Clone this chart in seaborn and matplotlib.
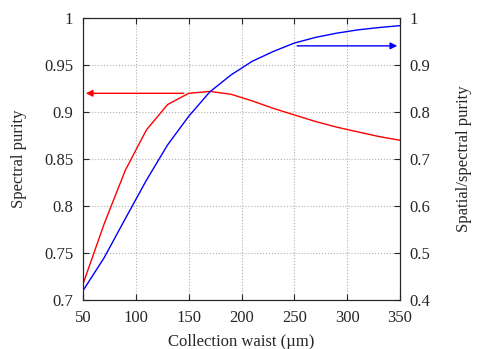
import matplotlib
matplotlib.use("Agg")
import matplotlib.pyplot as plt
import seaborn as sns
import pandas as pd

# === data ===
waist_um = [50, 70, 90, 110, 130, 150, 170, 190, 210, 230, 250, 270, 290, 310, 330, 350]
spectral_purity = [0.717, 0.781, 0.838, 0.881, 0.908, 0.920, 0.922, 0.919, 0.912,
                   0.904, 0.897, 0.890, 0.884, 0.879, 0.874, 0.870]
spatial_spectral_purity = [0.420, 0.490, 0.573, 0.655, 0.730, 0.791, 0.843, 0.879, 0.908,
                           0.929, 0.947, 0.959, 0.968, 0.975, 0.980, 0.984]
x_ticks = [50, 100, 150, 200, 250, 300, 350]
left_ticks = [0.7, 0.75, 0.8, 0.85, 0.9, 0.95, 1]
right_ticks = [0.4, 0.5, 0.6, 0.7, 0.8, 0.9, 1]

df = pd.DataFrame({"waist": waist_um, "spec": spectral_purity, "spat": spatial_spectral_purity})

sns.set_style("ticks")
plt.rcParams["font.family"] = ["Liberation Serif", "DejaVu Serif"]
plt.rcParams["font.size"] = 12
plt.rcParams["xtick.direction"] = "in"
plt.rcParams["ytick.direction"] = "in"

fig = plt.figure(figsize=(4.98, 3.49), dpi=100)
ax = fig.add_axes([0.1667, 0.1404, 0.6365, 0.8076])
ax2 = ax.twinx()

sns.lineplot(data=df, x="waist", y="spec", ax=ax, color="red", lw=1.0)
sns.lineplot(data=df, x="waist", y="spat", ax=ax2, color="blue", lw=1.0)

ax.set_xlim(50, 350)
ax.set_ylim(0.7, 1)
ax2.set_ylim(0.4, 1)
ax.set_xticks(x_ticks)
ax.set_xticklabels([str(t) for t in x_ticks])
ax.set_yticks(left_ticks)
ax.set_yticklabels([f"{t:g}" for t in left_ticks])
ax2.set_yticks(right_ticks)
ax2.set_yticklabels([f"{t:g}" for t in right_ticks])

ax.grid(True, color="#b0b0b0", linestyle=":", linewidth=0.8)
ax.tick_params(axis="x", top=True, length=4, width=0.8, pad=7, labelsize=12)
ax.tick_params(axis="y", length=4, width=0.8, pad=7, labelsize=12)
ax2.tick_params(axis="y", length=4, width=0.8, pad=7, labelsize=12)
for a in (ax, ax2):
    for s in a.spines.values():
        s.set_linewidth(0.8)

# arrows pointing to the matching axis
ax.annotate("", xy=(50, 0.920), xytext=(148, 0.920),
            arrowprops=dict(arrowstyle="-|>", color="red", lw=1.0, mutation_scale=10))
ax2.annotate("", xy=(350, 0.941), xytext=(250, 0.941),
             arrowprops=dict(arrowstyle="-|>", color="blue", lw=1.0, mutation_scale=10))

ax.set_xlabel("Collection waist (µm)", labelpad=6)
ax.set_ylabel("Spectral purity", labelpad=12)
ax2.set_ylabel("Spatial/spectral purity", labelpad=18)

fig.savefig("out.png", dpi=100)
